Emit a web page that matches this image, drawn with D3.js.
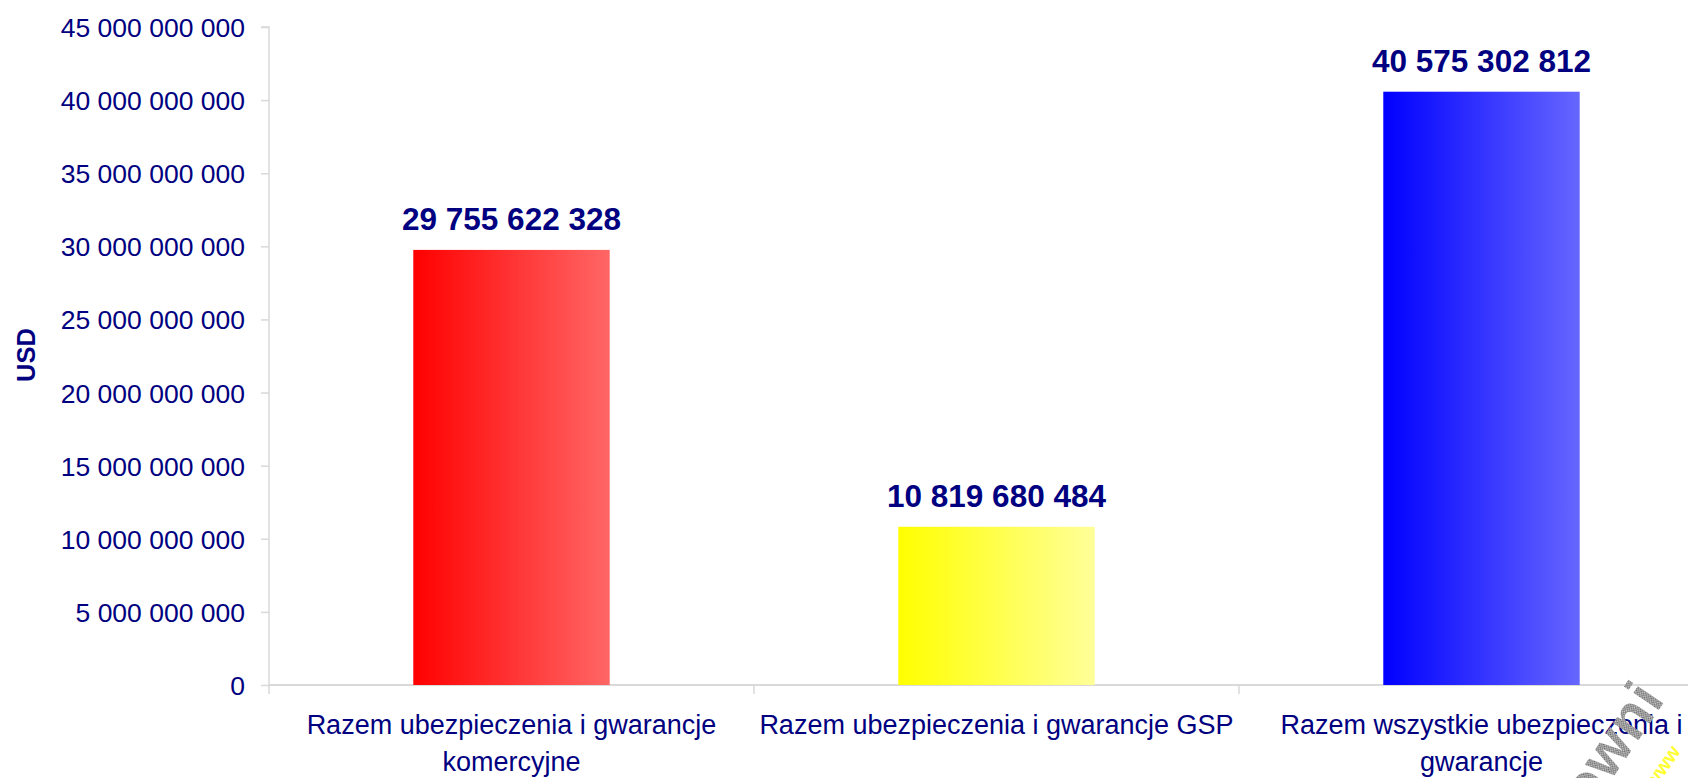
<!DOCTYPE html>
<html><head><meta charset="utf-8">
<script src="https://cdn.jsdelivr.net/npm/d3@7"></script>
<style>
html,body{margin:0;padding:0;background:#fff;overflow:hidden;}
svg{display:block;font-family:"Liberation Sans",Arial,sans-serif;}
</style></head>
<body>
<svg id="chart" width="1688" height="778"></svg>
<script>
const categories = [
  ["Razem ubezpieczenia i gwarancje", "komercyjne"],
  ["Razem ubezpieczenia i gwarancje GSP"],
  ["Razem wszystkie ubezpieczenia i", "gwarancje"]
];
const values = [29755622328, 10819680484, 40575302812];
const barColorsLeft = ["#FF0000", "#FFFF00", "#0000FF"];
const barColorsRight = ["#FF6666", "#FFFF99", "#6666FF"];
const yTicks = [0, 5e9, 10e9, 15e9, 20e9, 25e9, 30e9, 35e9, 40e9, 45e9];
const yTitle = "USD";

(function () {
const fmt = v => d3.format(",")(v).replace(/,/g, " ");
const navy = "#000080";
const gridCol = "#D9D9D9";

const svg = d3.select("#chart");
const plotLeft = 269, plotBottom = 685, plotTop = 27, step = 485;
const ids = categories.map((c, i) => i);

const x = d3.scaleBand().domain(ids).range([plotLeft, plotLeft + step * ids.length]).padding(0);
const y = d3.scaleLinear().domain([0, 45e9]).range([plotBottom, plotTop]);

const defs = svg.append("defs");
ids.forEach(i => {
  const g = defs.append("linearGradient").attr("id", "grad" + i)
    .attr("x1", "0%").attr("x2", "100%").attr("y1", "0%").attr("y2", "0%");
  g.append("stop").attr("offset", "0%").attr("stop-color", barColorsLeft[i]);
  g.append("stop").attr("offset", "100%").attr("stop-color", barColorsRight[i]);
});
const pat = defs.append("pattern").attr("id", "hatch").attr("width", 3).attr("height", 3)
  .attr("patternUnits", "userSpaceOnUse");
pat.append("rect").attr("width", 3).attr("height", 3).attr("fill", "#d0d0d0");
pat.append("rect").attr("width", 1.5).attr("height", 1.5).attr("fill", "#666");
pat.append("rect").attr("x", 1.5).attr("y", 1.5).attr("width", 1.5).attr("height", 1.5).attr("fill", "#666");

// Y axis
const yAxis = d3.axisLeft(y).tickValues(yTicks).tickFormat(fmt).tickSize(8).tickPadding(16);
const gy = svg.append("g").attr("transform", `translate(${plotLeft},0)`).call(yAxis);
gy.select(".domain").attr("stroke", gridCol).attr("stroke-width", 1.5).attr("d", `M-8,${plotTop}H0V${plotBottom + 9}`);
gy.selectAll(".tick line").attr("stroke", gridCol).attr("stroke-width", 1.5);
gy.selectAll(".tick text").attr("fill", navy).attr("font-size", "26.5px")
  .attr("font-family", "'Liberation Sans', Arial, sans-serif").attr("dy", "0.36em");

// X axis
const bw = x.bandwidth() * 0.405;
svg.append("line").attr("x1", plotLeft).attr("x2", 1688).attr("y1", plotBottom).attr("y2", plotBottom)
  .attr("stroke", gridCol).attr("stroke-width", 2);
ids.slice(1).forEach(i => {
  svg.append("line").attr("x1", x(i)).attr("x2", x(i)).attr("y1", plotBottom).attr("y2", plotBottom + 9)
    .attr("stroke", gridCol).attr("stroke-width", 1.5);
});

// Bars
svg.selectAll("rect.bar").data(ids).enter().append("rect").attr("class", "bar")
  .attr("x", i => x(i) + x.bandwidth() / 2 - bw / 2)
  .attr("width", bw)
  .attr("y", i => y(values[i]))
  .attr("height", i => y(0) - y(values[i]))
  .attr("fill", i => `url(#grad${i})`);

// Value labels
svg.selectAll("text.val").data(ids).enter().append("text").attr("class", "val")
  .attr("x", i => x(i) + x.bandwidth() / 2)
  .attr("y", i => y(values[i]) - 20)
  .attr("text-anchor", "middle").attr("fill", navy)
  .attr("font-weight", "bold").attr("font-size", "31.5px")
  .text(i => fmt(values[i]));

// Category labels
ids.forEach(i => {
  const t = svg.append("text").attr("text-anchor", "middle").attr("fill", navy)
    .attr("font-size", "27px").attr("x", x(i) + x.bandwidth() / 2).attr("y", 734);
  categories[i].forEach((line, k) => {
    t.append("tspan").attr("x", x(i) + x.bandwidth() / 2).attr("dy", k === 0 ? 0 : 36.5).text(line);
  });
});

// Y title
svg.append("text").attr("transform", "translate(35,355) rotate(-90)")
  .attr("text-anchor", "middle").attr("fill", navy).attr("font-weight", "bold")
  .attr("font-size", "25.5px").text(yTitle);

// Watermark fragment (bottom-right)
svg.append("text").attr("transform", "translate(1590,812) rotate(-56)")
  .attr("font-size", "58px").attr("font-weight", "bold").attr("fill", "url(#hatch)")
  .attr("letter-spacing", "1px").text("owni");
svg.append("text").attr("transform", "translate(1655,790) rotate(-56)")
  .attr("font-size", "20px").attr("font-weight", "bold").attr("fill", "#ffff33").text("www");
})();
</script>
</body></html>
